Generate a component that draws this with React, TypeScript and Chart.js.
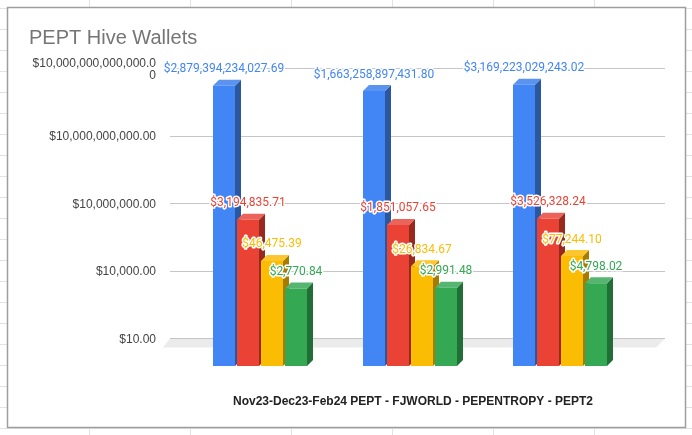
import React, { useEffect, useRef } from "react";
import { Chart, registerables } from "chart.js";

Chart.register(...registerables);

const periods = ["Nov23", "Dec23", "Feb24"];
const pept = [2879394234027.69, 1663258897431.8, 3169223029243.02];
const fjworld = [3194835.71, 1851057.65, 3526328.24];
const pepentropy = [46475.39, 26834.67, 77244.1];
const pept2 = [2770.84, 2991.48, 4798.02];
const seriesNames = ["PEPT", "FJWORLD", "PEPENTROPY", "PEPT2"];
const tickValues = [10, 10000, 10000000, 10000000000, 10000000000000];
const titleText = "PEPT Hive Wallets";
const axisTitle = "Nov23-Dec23-Feb24 PEPT - FJWORLD - PEPENTROPY - PEPT2";

const frontColors = ["#4285f4", "#ea4335", "#fbbc04", "#34a853"];
const sideColors = ["#2b579f", "#98291f", "#a67c00", "#216e37"];
const topColors = ["#5a93f0", "#ec6459", "#fcc62e", "#55b571"];
const DEPTH = 6;

const money = (v: number) =>
  "$" + v.toLocaleString("en-US", { minimumFractionDigits: 2, maximumFractionDigits: 2 });

const sheetPlugin = {
  id: "sheet",
  beforeDraw(chart: any) {
    const { ctx, width, height } = chart;
    ctx.save();
    ctx.fillStyle = "#ffffff";
    ctx.fillRect(0, 0, width, height);
    ctx.strokeStyle = "#e2e2e2";
    ctx.lineWidth = 1;
    ctx.beginPath();
    for (let x = 89.5; x < width; x += 101) {
      ctx.moveTo(x, 0);
      ctx.lineTo(x, height);
    }
    for (let y = 8.5; y < height; y += 21) {
      ctx.moveTo(0, y);
      ctx.lineTo(width, y);
    }
    ctx.stroke();
    ctx.fillStyle = "#ffffff";
    ctx.fillRect(7, 7, 679, 421);
    ctx.strokeStyle = "#9e9e9e";
    ctx.lineWidth = 1.5;
    ctx.strokeRect(7.5, 7.5, 678, 420);
    ctx.restore();
  },
  beforeDatasetsDraw(chart: any) {
    const { ctx } = chart;
    const y = chart.scales.y;
    const left = 170;
    const right = 665;
    ctx.save();
    const floorY = Math.round(y.getPixelForValue(tickValues[0])) + 0.5;
    ctx.fillStyle = "#ebebeb";
    ctx.beginPath();
    ctx.moveTo(left, floorY);
    ctx.lineTo(right, floorY);
    ctx.lineTo(right - 9, floorY + 9);
    ctx.lineTo(left - 7, floorY + 9);
    ctx.closePath();
    ctx.fill();
    ctx.strokeStyle = "#c6c6c6";
    ctx.lineWidth = 1;
    ctx.beginPath();
    tickValues.forEach((v) => {
      const p = Math.round(y.getPixelForValue(v)) + 0.5;
      ctx.moveTo(left, p);
      ctx.lineTo(right, p);
    });
    ctx.stroke();
    ctx.restore();
  },
  // The library would paint the last series first; the 3D look needs the first series at the back.
  beforeDatasetDraw() {
    return false;
  },
  afterDatasetsDraw(chart: any) {
    const { ctx, chartArea } = chart;
    ctx.save();
    chart.data.datasets.forEach((_ds: any, i: number) => {
      const meta = chart.getDatasetMeta(i);
      meta.data.forEach((bar: any) => {
        const { x, y, base, width } = bar.getProps(["x", "y", "base", "width"], true);
        const l = x - width / 2;
        const r = x + width / 2;
        ctx.fillStyle = sideColors[i];
        ctx.beginPath();
        ctx.moveTo(r, y);
        ctx.lineTo(r + DEPTH, y - DEPTH);
        ctx.lineTo(r + DEPTH, base - DEPTH);
        ctx.lineTo(r, base);
        ctx.closePath();
        ctx.fill();
        ctx.fillStyle = topColors[i];
        ctx.beginPath();
        ctx.moveTo(l, y);
        ctx.lineTo(l + DEPTH, y - DEPTH);
        ctx.lineTo(r + DEPTH, y - DEPTH);
        ctx.lineTo(r, y);
        ctx.closePath();
        ctx.fill();
      });
      meta.controller.draw();
    });
    ctx.font = "12px Roboto";
    ctx.textAlign = "center";
    ctx.textBaseline = "middle";
    ctx.lineJoin = "round";
    chart.data.datasets.forEach((ds: any, i: number) => {
      chart.getDatasetMeta(i).data.forEach((bar: any, j: number) => {
        const { x, y } = bar.getProps(["x", "y"], true);
        const label = money(ds.data[j]);
        ctx.strokeStyle = "#ffffff";
        ctx.lineWidth = 3;
        ctx.strokeText(label, x, y - 16.5);
        ctx.fillStyle = frontColors[i];
        ctx.fillText(label, x, y - 16.5);
      });
    });
    ctx.font = "bold 12px 'Liberation Sans'";
    ctx.fillStyle = "#222222";
    ctx.fillText(axisTitle, (chartArea.left + chartArea.right) / 2 + 3, chartArea.bottom + 35.5);
    ctx.restore();
  },
};

export default function App() {
  const ref = useRef<HTMLCanvasElement>(null);
  useEffect(() => {
    const chart = new Chart(ref.current as HTMLCanvasElement, {
      type: "bar",
      data: {
        labels: periods,
        datasets: [pept, fjworld, pepentropy, pept2].map((data, i) => ({
          label: seriesNames[i],
          data,
          backgroundColor: frontColors[i],
          borderWidth: 0,
          yAxisID: "front",
          clip: false,
          categoryPercentage: 0.64,
          barPercentage: 22 / 24,
        })),
      },
      options: {
        responsive: false,
        animation: false,
        layout: { padding: { left: 29, right: 57, top: 26, bottom: 69 } },
        plugins: {
          legend: { display: false },
          tooltip: { enabled: false },
          title: {
            display: true,
            text: titleText,
            align: "start",
            color: "#757575",
            font: { family: "'Liberation Sans'", size: 20, weight: "normal" },
            padding: { top: 0, bottom: 18 },
          },
        },
        scales: {
          x: { display: false },
          y: {
            type: "logarithmic",
            position: "left",
            min: 0.57,
            max: 1e13,
            grid: { display: false },
            border: { display: false },
            afterBuildTicks(scale: any) {
              scale.ticks = tickValues.map((value) => ({ value }));
            },
            afterFit(scale: any) {
              scale.width = 156;
            },
            ticks: {
              autoSkip: false,
              padding: 21,
              labelOffset: 1.5,
              color: "#444444",
              font: { family: "'Liberation Sans'", size: 12, lineHeight: 1.05 },
              callback(value: any) {
                const s = money(Number(value));
                return s.length > 21 ? [s.slice(0, 21), s.slice(21)] : s;
              },
            },
          },
          front: {
            type: "logarithmic",
            display: false,
            min: 1,
            max: 1.754e13,
          },
        },
      } as any,
      plugins: [sheetPlugin],
    });
    return () => chart.destroy();
  }, []);
  return (
    <div style={{ position: "fixed", left: 0, top: 0, width: 692, height: 435 }}>
      <canvas ref={ref} width={692} height={435} style={{ display: "block" }} />
    </div>
  );
}
